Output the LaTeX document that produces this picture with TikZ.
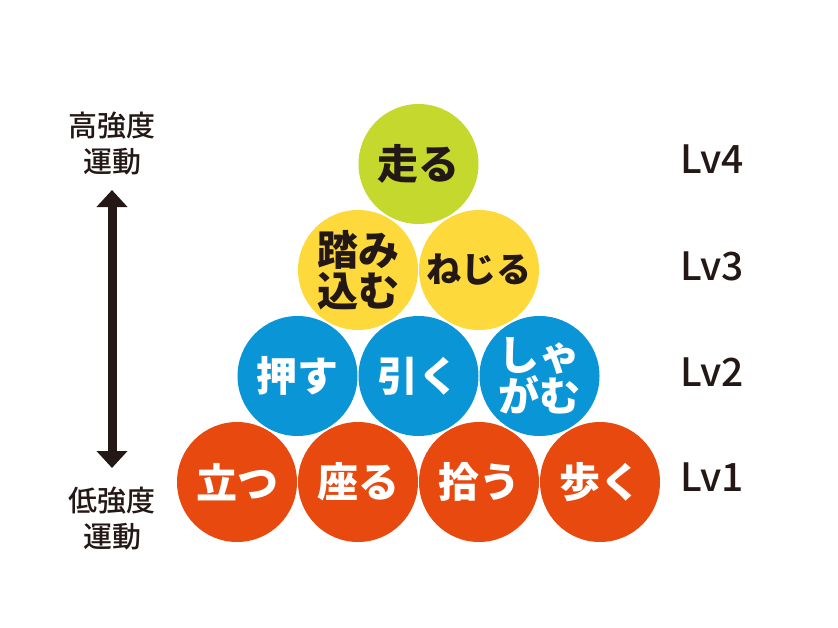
\documentclass[tikz,border=0pt]{standalone}
\usepackage{fontspec}
\newfontfamily\jpfont{Noto Sans CJK JP}
\newfontfamily\jpmedium{Noto Sans CJK JP Medium}
\usetikzlibrary{arrows.meta}
\definecolor{inkblack}{HTML}{231815}
\definecolor{lvred}{HTML}{E8490F}
\definecolor{lvblue}{HTML}{0A96D6}
\definecolor{lvyellow}{HTML}{FDD93C}
\definecolor{lvgreen}{HTML}{C4D82E}
\begin{document}
\begin{tikzpicture}[x=1pt,y=-1pt,
    ball/.style={circle, minimum size=120pt, inner sep=0pt, align=center,
      font=\jpfont\bfseries\fontsize{41}{41}\selectfont},
    redball/.style={ball, fill=lvred, text=white},
    blueball/.style={ball, fill=lvblue, text=white},
    yellowball/.style={ball, fill=lvyellow, text=inkblack},
    greenball/.style={ball, fill=lvgreen, text=inkblack},
    sidetext/.style={align=center, text=inkblack, inner sep=0pt,
      font=\jpmedium\fontsize{29}{36}\selectfont},
    lvtext/.style={text=inkblack, inner sep=0pt,
      font=\jpmedium\fontsize{39}{40}\selectfont}]
  \useasboundingbox (0,0) rectangle (838,627);

  \node [redball] (tatsu)  at (237,482) {立つ};
  \node [redball] (suwaru) at (358,482) {座る};
  \node [redball] (hirou)  at (479,482) {拾う};
  \node [redball] (aruku)  at (600,482) {歩く};

  \node [blueball] (osu)     at (297.5,376) {押す};
  \node [blueball] (hiku)    at (418.5,376) {引く};
  \node [blueball] (shagamu) at (539.5,376) {しゃ\\がむ};

  \node [yellowball] (fumikomu) at (358,270) {踏み\\込む};
  \node [yellowball, font=\jpfont\bfseries\fontsize{35}{36}\selectfont] (nejiru) at (479,270) {ねじる};

  \node [greenball] (hashiru) at (418.5,164) {走る};

  \node [lvtext] (lv4) at (712,159) {Lv4};
  \node [lvtext] (lv3) at (712,266) {Lv3};
  \node [lvtext] (lv2) at (712,372) {Lv2};
  \node [lvtext] (lv1) at (712,477) {Lv1};

  \node [sidetext] (high) at (112,143.5) {高強度\\運動};
  \node [sidetext] (low)  at (112,519) {低強度\\運動};

  \coordinate (uptip)   at (112,190);
  \coordinate (downtip) at (112,468);
  \draw [inkblack, line width=9pt,
    {Triangle[width=30pt,length=17pt]}-{Triangle[width=30pt,length=17pt]}] (uptip) -- (downtip);
\end{tikzpicture}
\end{document}
